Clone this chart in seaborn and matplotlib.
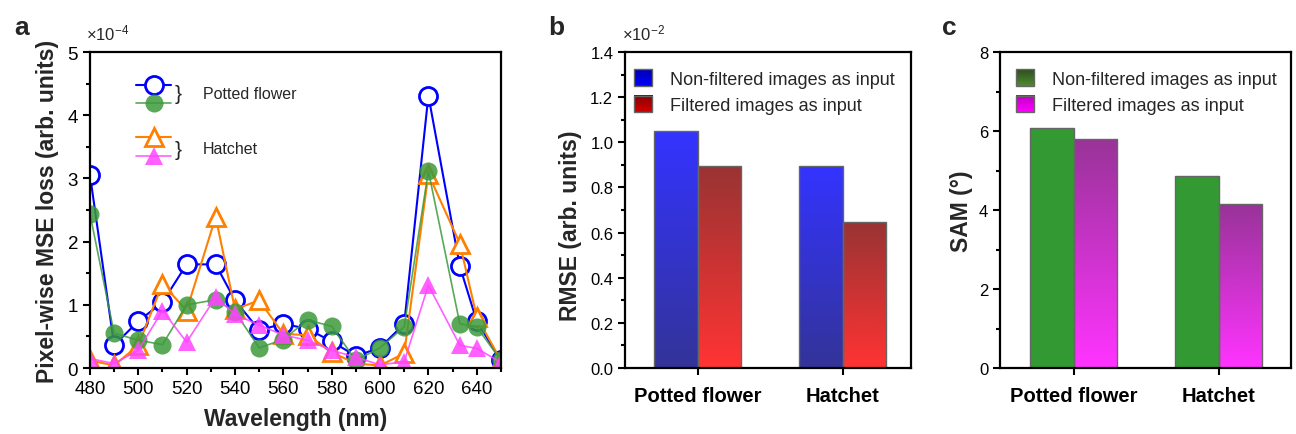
import numpy as np
import pandas as pd
import matplotlib
matplotlib.use("Agg")
import matplotlib.pyplot as plt
import seaborn as sns
from matplotlib.colors import LinearSegmentedColormap
from matplotlib.lines import Line2D
from matplotlib.patches import Rectangle
from matplotlib.legend_handler import HandlerBase
from matplotlib.image import BboxImage
from matplotlib.transforms import Bbox, TransformedBbox
from matplotlib.ticker import MultipleLocator, FormatStrFormatter

# ---- panel a: pixel-wise MSE loss (units of 1e-4) ----
wavelength = [480, 490, 500, 510, 520, 532, 540, 550, 560, 570, 580, 590, 600, 610, 620, 633, 640, 650]
potted_nonfilt = [3.06, 0.36, 0.74, 1.04, 1.64, 1.64, 1.07, 0.60, 0.70, 0.62, 0.42, 0.19, 0.32, 0.70, 4.31, 1.61, 0.74, 0.12]
potted_filt = [2.44, 0.55, 0.44, 0.37, 1.00, 1.08, 0.89, 0.32, 0.45, 0.76, 0.66, 0.12, 0.32, 0.65, 3.12, 0.70, 0.65, 0.12]
hatchet_nonfilt = [0.12, 0.04, 0.36, 1.33, 0.91, 2.39, 0.93, 1.07, 0.54, 0.52, 0.25, 0.07, 0.04, 0.23, 3.07, 1.97, 0.81, 0.12]
hatchet_filt = [0.15, 0.07, 0.28, 0.91, 0.41, 1.12, 0.85, 0.68, 0.52, 0.44, 0.28, 0.17, 0.05, 0.10, 1.31, 0.36, 0.31, 0.09]

# ---- panels b, c ----
scenes = ["Potted flower", "Hatchet"]
inputs = ["Non-filtered images as input", "Filtered images as input"]
rmse_nonfilt = [1.05, 0.895]   # x 1e-2
rmse_filt = [0.895, 0.647]
sam_nonfilt = [6.08, 4.87]
sam_filt = [5.81, 4.14]

sns.set_theme(style="ticks")
plt.rcParams["font.family"] = ["Liberation Sans", "DejaVu Sans"]
plt.rcParams["mathtext.fontset"] = "custom"
plt.rcParams["mathtext.rm"] = "Liberation Sans"
plt.rcParams["mathtext.it"] = "Liberation Sans:italic"
plt.rcParams["mathtext.bf"] = "Liberation Sans:bold"


class GradientHandler(HandlerBase):
    def __init__(self, cmap):
        super().__init__()
        self.cmap = cmap

    def create_artists(self, legend, orig_handle, xdescent, ydescent,
                       width, height, fontsize, trans):
        bb = TransformedBbox(Bbox.from_bounds(-xdescent, -ydescent, width, height), trans)
        img = BboxImage(bb, cmap=self.cmap, interpolation="bilinear")
        img.set_data(np.linspace(0, 1, 32).reshape(-1, 1))
        edge = Rectangle((-xdescent, -ydescent), width, height, facecolor="none",
                         edgecolor="#666666", lw=1, transform=trans)
        return [img, edge]


def grad(name, top, bottom):
    return LinearSegmentedColormap.from_list(name, [top, bottom])


def paint_bars(ax, container, cmap):
    g = np.linspace(0, 1, 64).reshape(-1, 1)
    for bar in container:
        x0, y0 = bar.get_xy()
        w, h = bar.get_width(), bar.get_height()
        im = ax.imshow(g, cmap=cmap, extent=[x0, x0 + w, y0, y0 + h], aspect="auto",
                       origin="upper", interpolation="bilinear", zorder=bar.get_zorder() - 0.1)
        im.set_clip_path(bar)
        bar.set_facecolor("none")


def style_axes(ax, size=12):
    for s in ax.spines.values():
        s.set_linewidth(1.6)
        s.set_color("black")
    ax.tick_params(which="both", direction="out", width=1.5, colors="black",
                   labelsize=size, top=False, right=False)
    ax.tick_params(which="major", length=5)
    ax.tick_params(which="minor", length=3)


fig = plt.figure(figsize=(12.96, 4.35), dpi=100)
ax_a = fig.add_axes([0.0694, 0.1517, 0.3171, 0.7264])
ax_b = fig.add_axes([0.4823, 0.1517, 0.2207, 0.7264])
ax_c = fig.add_axes([0.7716, 0.1517, 0.2245, 0.7264])

# ---- panel a ----
c_blue, c_green, c_orange, c_mag = "#0000FF", "#3C9A3C", "#FF8000", "#FF44FF"
series = [
    (potted_nonfilt, c_blue, "o", "white", 2.0, 1.5, 1.0),
    (hatchet_nonfilt, c_orange, "^", "white", 2.0, 1.5, 1.0),
    (potted_filt, c_green, "o", c_green, 0.0, 1.2, 0.85),
    (hatchet_filt, c_mag, "^", c_mag, 0.0, 1.2, 0.85),
]
for vals, col, mk, fc, mew, lw, al in series:
    df = pd.DataFrame({"wavelength": wavelength, "loss": vals})
    sns.lineplot(data=df, x="wavelength", y="loss", ax=ax_a, color=col, lw=lw,
                 marker=mk, markersize=13, markerfacecolor=fc, markeredgecolor=col,
                 markeredgewidth=mew, alpha=al)

ax_a.set_xlim(480, 650)
ax_a.set_ylim(0, 5)
ax_a.xaxis.set_major_locator(MultipleLocator(20))
ax_a.xaxis.set_minor_locator(MultipleLocator(10))
ax_a.yaxis.set_major_locator(MultipleLocator(1))
ax_a.yaxis.set_minor_locator(MultipleLocator(0.5))
style_axes(ax_a, 13.5)
ax_a.set_xlabel("Wavelength (nm)", fontsize=16.5, fontweight="bold", labelpad=7)
ax_a.set_ylabel("Pixel-wise MSE loss (arb. units)", fontsize=16.5, fontweight="bold", labelpad=6)
ax_a.text(-0.01, 1.03, r"$\times10^{-4}$", transform=ax_a.transAxes, fontsize=12, va="bottom")

h_pf = [Line2D([], [], color=c_blue, lw=1.5, marker="o", ms=13, mfc="white", mec=c_blue, mew=2),
        Line2D([], [], color=c_green, lw=1.2, marker="o", ms=13, mfc=c_green, mec=c_green, mew=0, alpha=0.85)]
h_ht = [Line2D([], [], color=c_orange, lw=1.5, marker="^", ms=13, mfc="white", mec=c_orange, mew=2),
        Line2D([], [], color=c_mag, lw=1.2, marker="^", ms=13, mfc=c_mag, mec=c_mag, mew=0, alpha=0.85)]
leg_kw = dict(loc="upper left", frameon=False, handlelength=2.25, labelspacing=0.3,
              fontsize=11, handletextpad=0, borderpad=0, borderaxespad=0)
leg1 = ax_a.legend(h_pf, ["", ""], bbox_to_anchor=(0.113, 0.915), **leg_kw)
ax_a.add_artist(leg1)
ax_a.legend(h_ht, ["", ""], bbox_to_anchor=(0.113, 0.748), **leg_kw)
ax_a.text(0.207, 0.868, "}", transform=ax_a.transAxes, fontsize=15, va="center", ha="left")
ax_a.text(0.207, 0.692, "}", transform=ax_a.transAxes, fontsize=15, va="center", ha="left")
ax_a.text(0.275, 0.870, "Potted flower", transform=ax_a.transAxes, fontsize=11.5, va="center")
ax_a.text(0.275, 0.694, "Hatchet", transform=ax_a.transAxes, fontsize=11.5, va="center")

# ---- panels b and c ----
bar_panels = [
    (ax_b, rmse_nonfilt, rmse_filt, "RMSE (arb. units)", 1.4, 0.2, 0.1, "%.1f",
     grad("bb", "#3333FF", "#333399"), grad("br", "#993333", "#FF3333"),
     grad("lb", "#0000B0", "#0000FF"), grad("lr", "#8A0000", "#D00000"),
     (-0.5, 1.47), (-0.012, 0.985), (-0.15, 0.452)),
    (ax_c, sam_nonfilt, sam_filt, "SAM (\u00b0)", 8, 2, 1, "%d",
     grad("bg", "#339933", "#339933"), grad("bm", "#993399", "#FF33FF"),
     grad("lg", "#2E4F1E", "#4F8A30"), grad("lm", "#C000C0", "#FF00FF"),
     (-0.51, 1.5), (0.01, 0.985), (-0.093, 0.5)),
]
for ax, v_non, v_fil, ylab, ymax, maj, mnr, fmt, cm1, cm2, lcm1, lcm2, xl, lpos, ypos in bar_panels:
    df = pd.DataFrame({
        "scene": scenes * 2,
        "value": v_non + v_fil,
        "input": [inputs[0]] * 2 + [inputs[1]] * 2,
    })
    sns.barplot(data=df, x="scene", y="value", hue="input", hue_order=inputs,
                palette=["#3333FF", "#FF3333"], width=0.6, edgecolor="#666666",
                linewidth=1, legend=False, ax=ax)
    paint_bars(ax, ax.containers[0], cm1)
    paint_bars(ax, ax.containers[1], cm2)
    ax.set_xlim(*xl)
    ax.set_ylim(0, ymax)
    ax.yaxis.set_major_locator(MultipleLocator(maj))
    ax.yaxis.set_minor_locator(MultipleLocator(mnr))
    ax.yaxis.set_major_formatter(FormatStrFormatter(fmt))
    style_axes(ax)
    ax.tick_params(axis="x", labelsize=14.5, pad=8)
    for t in ax.get_xticklabels():
        t.set_fontweight("bold")
    ax.set_xlabel("")
    ax.set_ylabel(ylab, fontsize=16.5, fontweight="bold")
    ax.yaxis.set_label_coords(*ypos)
    p1, p2 = Rectangle((0, 0), 1, 1), Rectangle((0, 0), 1, 1)
    ax.legend([p1, p2], inputs, loc="upper left", bbox_to_anchor=lpos,
              frameon=False, fontsize=13, handlelength=1.0, handleheight=1.0,
              handletextpad=1.0, labelspacing=0.45, borderpad=0.2,
              handler_map={p1: GradientHandler(lcm1), p2: GradientHandler(lcm2)})

ax_b.text(-0.01, 1.03, r"$\times10^{-2}$", transform=ax_b.transAxes, fontsize=12, va="bottom")

for lab, x in [("a", 0.011), ("b", 0.423), ("c", 0.727)]:
    fig.text(x, 0.935, lab, fontsize=19, fontweight="bold", va="center")

fig.savefig("out.png", dpi=100)
